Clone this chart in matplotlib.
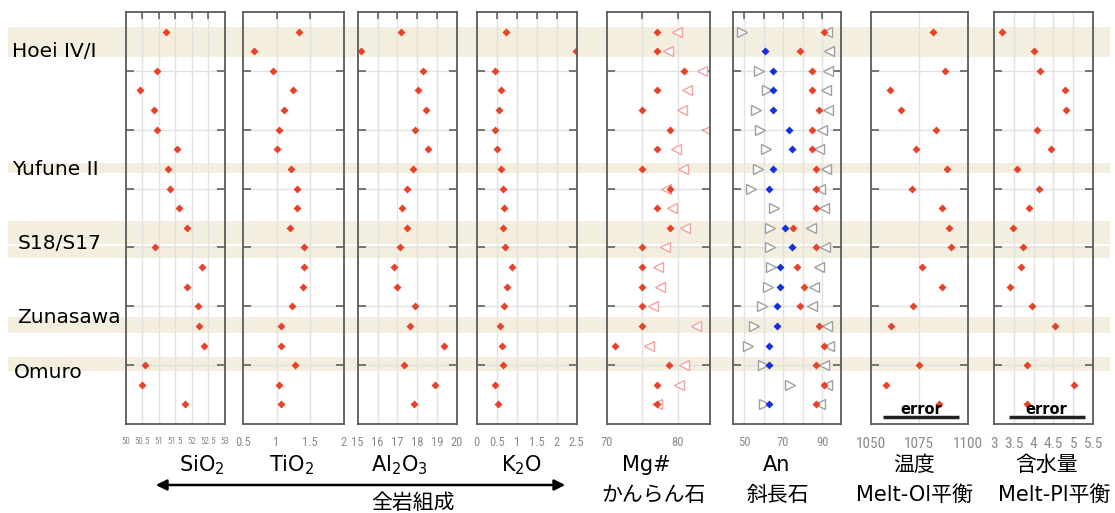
import numpy as np
import matplotlib
matplotlib.use("Agg")
import matplotlib.pyplot as plt
import matplotlib.font_manager as fm
from matplotlib.patches import FancyArrowPatch

plt.rcParams["font.family"] = ["DejaVu Sans", "Noto Sans CJK JP"]
plt.rcParams["mathtext.fontset"] = "dejavusans"
plt.rcParams["mathtext.default"] = "regular"

# 細い数字フォント(あれば)
TICK_FONT = "DejaVu Sans"
for name in ["Liberation Sans Narrow", "Roboto Condensed", "Open Sans Condensed"]:
    try:
        fm.findfont(fm.FontProperties(family=name), fallback_to_default=False)
        TICK_FONT = name
        break
    except ValueError:
        pass

nan = np.nan
rows = np.arange(20)

# ---- データ(上から順に 20 試料) ----
sio2 = [51.21, nan, 50.95, 50.42, 50.85, 50.95, 51.54, 51.27, 51.35, 51.60,
        51.85, 50.88, 52.31, 51.85, 52.19, 52.22, 52.36, 50.57, 50.49, 51.78]
tio2 = [1.34, 0.67, 0.95, 1.25, 1.11, 1.04, 1.01, 1.21, 1.30, 1.30,
        1.20, 1.41, 1.41, 1.39, 1.23, 1.07, 1.07, 1.28, 1.04, 1.07]
al2o3 = [17.17, 15.15, 18.28, 18.05, 18.47, 17.89, 18.55, 17.81, 17.47, 17.25,
         17.51, 17.14, 16.82, 16.97, 17.89, 17.66, 19.34, 17.32, 18.90, 17.83]
k2o = [0.73, 2.47, 0.46, 0.61, 0.57, 0.47, 0.50, 0.62, 0.67, 0.69,
       0.65, 0.72, 0.87, 0.76, 0.69, 0.58, 0.64, 0.66, 0.45, 0.54]
mg_ol = [77.0, 77.0, 80.8, 77.0, 75.0, 78.9, 77.0, 75.0, 78.9, 77.0,
         78.9, 75.0, 75.0, 75.0, 75.0, 75.0, 71.2, 78.8, 77.0, 77.0]
mg_ol_max = [79.9, 78.6, 83.4, 81.3, 80.5, 84.1, 79.7, 80.7, 78.3, 79.1,
             81.0, 78.2, 77.2, 77.5, 76.5, 82.5, 76.0, 80.8, 80.1, 77.1]
an_min = [49.1, nan, 57.8, 61.9, 56.3, 58.2, 61.4, 57.3, 53.7, 65.5,
          63.3, 63.1, 63.9, 62.4, 59.3, 54.9, 51.9, 59.5, 73.5, 60.2]
an_blue = [nan, 60.7, 64.8, 64.8, 64.8, 72.8, 74.8, 64.8, 62.8, nan,
           70.8, 74.8, 68.5, 68.5, 66.8, 66.8, 62.8, 62.8, nan, 62.8]
an_red = [91.0, 78.7, 84.8, 84.8, 88.6, 84.8, 84.8, 86.9, 86.9, 86.9,
          75.0, 86.9, 76.9, 80.8, 78.7, 88.6, 90.8, 86.9, 90.8, 86.9]
an_max = [92.5, 93.5, 92.9, 92.2, 93.0, 90.0, 88.6, 92.2, 88.8, 90.8,
          84.3, 91.3, 88.4, 85.6, 84.8, 92.7, 93.5, 91.2, 92.5, 88.8]
temp = [1081.9, nan, 1088.1, 1059.8, 1065.5, 1083.5, 1073.4, 1089.5, 1071.3, 1086.8,
        1090.5, 1091.5, 1076.3, 1086.9, 1072.0, 1060.3, nan, 1074.9, 1058.0, 1085.4]
water = [3.20, 4.00, 4.15, 4.79, 4.81, 4.08, 4.44, 3.59, 4.13, 3.88,
         3.49, 3.74, 3.69, 3.40, 3.95, 4.55, nan, 3.83, 5.02, 3.84]
temp_err = [1056.3, 1095.5]
water_err = [3.38, 5.28]

groups = ["Hoei IV/I", "Yufune II", "S18/S17", "Zunasawa", "Omuro"]
group_rows = [1.0, 7.05, 10.8, 14.55, 17.4]
band_rows = [(-0.25, 1.27), (6.7, 7.2), (9.64, 10.8), (10.95, 11.52),
             (14.57, 15.38), (16.6, 17.3)]

sio2_ticks = [50, 50.5, 51, 51.5, 52, 52.5, 53]
tio2_ticks = [0.5, 1, 1.5, 2]
al2o3_ticks = [15, 16, 17, 18, 19, 20]
k2o_ticks = [0, 0.5, 1, 1.5, 2, 2.5]
mg_ticks = [70, 80]
an_ticks = [50, 70, 90]
temp_ticks = [1050, 1075, 1100]
water_ticks = [3, 3.5, 4, 4.5, 5, 5.5]

RED = "#E8432A"
BLUE = "#1530E0"
PINK = "#F4A3A3"
GRAY = "#A0A0A0"
BAND = "#F3EEDE"

W, H = 1115, 513
fig = plt.figure(figsize=(W / 100, H / 100), dpi=100)
TOP, BOT = 12, 424

def ax_at(l, r):
    return fig.add_axes([l / W, 1 - BOT / H, (r - l) / W, (BOT - TOP) / H])

# 背景の帯と試料名
bg = ax_at(8, 1110)
bg.set_xlim(0, 1)
bg.set_ylim(20, -1)
bg.axis("off")
for a, b in band_rows:
    bg.axhspan(a, b, color=BAND, lw=0, zorder=0)
for g, y, xp in zip(groups, group_rows, [12, 12, 18, 17, 14]):
    bg.text((xp - 8) / 1102, y, g, fontsize=14.5, va="center", ha="left")

def panel(l, r, xlim, grid, ticks, fs, top_ticks=True):
    ax = ax_at(l, r)
    ax.set_facecolor("none")
    ax.set_xlim(*xlim)
    ax.set_ylim(20, -1)
    ax.set_xticks(ticks)
    ax.set_xticklabels([f"{v:g}" for v in ticks], fontsize=fs, color="#8a8a8a",
                       family=TICK_FONT)
    ax.set_xticks(grid, minor=True)
    ax.xaxis.remove_overlapping_locs = False
    ax.tick_params(axis="x", which="major", length=0, pad=9)
    ax.tick_params(axis="x", which="minor", bottom=False, top=top_ticks,
                   direction="in", length=5, width=1.1, color="#555")
    ax.set_yticks([2, 5, 8, 11, 14, 17])
    ax.set_yticklabels([])
    ax.tick_params(axis="y", left=True, right=True, direction="in",
                   length=6, width=1.1, color="#555")
    ax.grid(True, which="minor", axis="x", color="#e2e2e2", lw=1)
    ax.grid(True, which="major", axis="y", color="#e2e2e2", lw=1)
    ax.set_axisbelow(True)
    for s in ax.spines.values():
        s.set_color("#5a5a5a")
        s.set_linewidth(1.3)
    return ax

dia = dict(ls="none", marker="D", ms=4.5, mec="none")
tri = dict(ls="none", ms=6.5, mfc="white", mew=1)

ax = panel(125.8, 225, (50, 53), [50.5, 51, 51.5, 52, 52.5], sio2_ticks, 6.5)
ax.plot(sio2, rows, color=RED, **dia)

ax = panel(243, 343.5, (0.5, 2), [1, 1.5], tio2_ticks, 9)
ax.plot(tio2, rows, color=RED, **dia)

ax = panel(357.7, 456.7, (15, 20), [16, 17, 18, 19], al2o3_ticks, 9)
ax.plot(al2o3, rows, color=RED, **dia)

ax = panel(476.7, 576.7, (0, 2.5), [0.5, 1, 1.5, 2], k2o_ticks, 9)
ax.plot(k2o, rows, color=RED, **dia)

ax = panel(606.7, 710, (70, 84.5), [75, 80], mg_ticks, 9)
ax.plot(mg_ol_max, rows, marker="<", mec=PINK, **tri)
ax.plot(mg_ol, rows, color=RED, **dia)

ax = panel(733.3, 840.7, (44.5, 99.5), [50, 60, 70, 80, 90], an_ticks, 9)
ax.plot(an_min, rows, marker=">", mec=GRAY, **tri)
ax.plot(an_max, rows, marker="<", mec=GRAY, **tri)
ax.plot(an_blue, rows, color=BLUE, **dia)
ax.plot(an_red, rows, color=RED, **dia)

ax = panel(870.7, 967.7, (1050, 1100), [1075], temp_ticks, 11, top_ticks=False)
ax.plot(temp, rows, color=RED, **dia)
ax.plot(temp_err, [19.65, 19.65], color="#222", lw=2.5, solid_capstyle="butt")
ax.text(np.mean(temp_err), 19.25, "error", ha="center", va="center", fontsize=10.5,
        weight="bold")

ax = panel(993.7, 1093.3, (3, 5.5), [3.5, 4, 4.5, 5], water_ticks, 11, top_ticks=False)
ax.plot(water, rows, color=RED, **dia)
ax.plot(water_err, [19.65, 19.65], color="#222", lw=2.5, solid_capstyle="butt")
ax.text(np.mean(water_err), 19.25, "error", ha="center", va="center", fontsize=10.5,
        weight="bold")

# 下の見出し
titles = [("SiO$_2$", 202), ("TiO$_2$", 292), ("Al$_2$O$_3$", 399), ("K$_2$O", 522),
          ("Mg#", 646), ("An", 777), ("温度", 914), ("含水量", 1047)]
subtitles = [("かんらん石", 654), ("斜長石", 778), ("Melt-Ol平衡", 914), ("Melt-Pl平衡", 1054)]
for t, x in titles:
    fig.text(x / W, 1 - 465 / H, t, ha="center", va="center", fontsize=15)
for t, x in subtitles:
    fig.text(x / W, 1 - 495 / H, t, ha="center", va="center", fontsize=15)

fig.add_artist(FancyArrowPatch(
    (153 / W, 1 - 485 / H), (568 / W, 1 - 485 / H), transform=fig.transFigure,
    arrowstyle="<|-|>", mutation_scale=16, lw=1.8, color="black"))
fig.text(413 / W, 1 - 503 / H, "全岩組成", ha="center", va="center", fontsize=15)

fig.savefig("out.png", dpi=100)
